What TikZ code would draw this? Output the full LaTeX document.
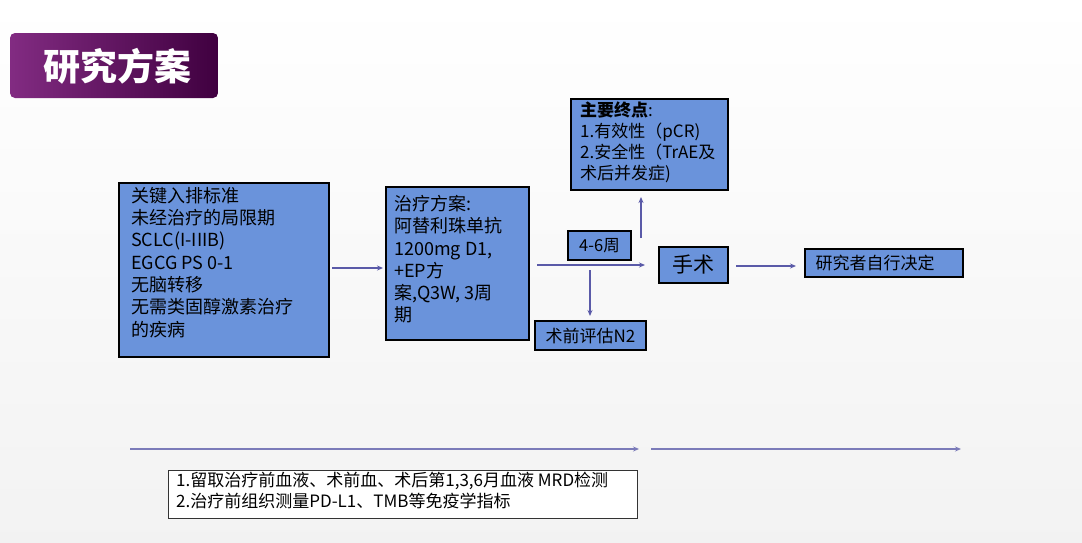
\documentclass[tikz,border=0pt]{standalone}
\usepackage{fontspec}
\setmainfont{Noto Sans CJK SC}
\usetikzlibrary{arrows.meta}
\definecolor{bx}{HTML}{6A93DB}
\definecolor{ar}{HTML}{5A5AA8}
\tikzset{
 bbox/.style={draw=black,line width=1.3pt,fill=bx,inner sep=0pt},
 btxt/.style={align=left,anchor=north west,font=\fontsize{18}{22.3}\selectfont,inner sep=0pt},
 arr/.style={draw=ar,line width=2pt,-{Stealth[length=6pt,width=5pt]}},
 ln/.style={draw=ar!80,line width=1.5pt,-{Stealth[length=6pt,width=5pt]}}
}
\begin{document}
\begin{tikzpicture}[x=1pt,y=-1pt]
\useasboundingbox (0,0) rectangle (1082,542);
\shade[top color=white,bottom color=gray!10] (0,0) rectangle (1082,542);
% title
\shade[rounded corners=5pt,left color=violet!80!white!85!black,right color=violet!50!black] (10,33) rectangle (218,98);
\node[text=white,font=\fontsize{37}{40}\selectfont\bfseries] (title) at (117,66) {研究方案};
% boxes
\draw[bbox] (119,183) rectangle (329,357);
\node[btxt] (b1) at (131,187) {关键入排标准\\未经治疗的局限期\\SCLC(I-IIIB)\\EGCG PS 0-1\\无脑转移\\无需类固醇激素治疗\\的疾病};
\coordinate (b1e) at (332,268);
\draw[bbox] (386,187) rectangle (529,340);
\node[btxt] (b2) at (394,195) {治疗方案:\\阿替利珠单抗\\1200mg D1,\\+EP方\\案,Q3W, 3周\\期};
\coordinate (b2w) at (383,268);
\draw[bbox] (571,99) rectangle (728,190);
\node[btxt,font=\fontsize{17}{21}\selectfont] (b3) at (580,102) {\textbf{主要终点}:\\1.有效性（pCR)\\2.安全性（TrAE及\\术后并发症)};
\draw[bbox] (568,231) rectangle (631,260);
\node[font=\fontsize{16.5}{19}\selectfont] (w) at (599.5,245.5) {4-6周};
\draw[bbox] (659,247) rectangle (728,283);
\node[font=\fontsize{21}{24}\selectfont] (op) at (693.5,265) {手术};
\draw[bbox] (805,249) rectangle (963,277);
\node[font=\fontsize{17}{20}\selectfont] (inv) at (875,263) {研究者自行决定};
\draw[bbox] (535,321) rectangle (646,350);
\node[font=\fontsize{17}{20}\selectfont] (n2) at (590.5,335.5) {术前评估N2};
\draw[draw=black!80,line width=1pt,fill=white] (168,470) rectangle (637,518);
\node[btxt,font=\fontsize{17}{21}\selectfont] (bt) at (176,472) {1.留取治疗前血液、术前血、术后第1,3,6月血液 MRD检测\\2.治疗前组织测量PD-L1、TMB等免疫学指标};
% arrows
\coordinate (a1) at (537,265); \coordinate (a2) at (645,265);
\coordinate (u1) at (641,238); \coordinate (u2) at (641,197);
\coordinate (d1) at (590,270); \coordinate (d2) at (590,316);
\coordinate (s1) at (736,266); \coordinate (s2) at (796,266);
\coordinate (l1) at (130,449); \coordinate (l2) at (639,449);
\coordinate (l3) at (651,449); \coordinate (l4) at (961,449);
\draw[arr] (b1e) -- (b2w);
\draw[arr] (a1) -- (a2);
\draw[arr] (u1) -- (u2);
\draw[arr] (d1) -- (d2);
\draw[arr] (s1) -- (s2);
\draw[ln] (l1) -- (l2);
\draw[ln] (l3) -- (l4);
\end{tikzpicture}
\end{document}
